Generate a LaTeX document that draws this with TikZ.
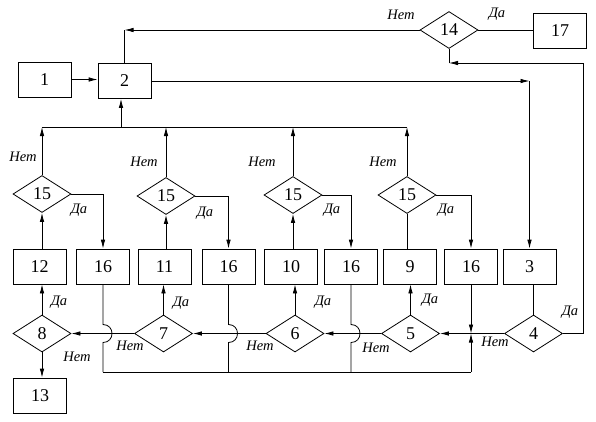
\documentclass[tikz,border=0pt]{standalone}
\usepackage{fontspec}
\setmainfont{Liberation Serif}
\usetikzlibrary{shapes.geometric,arrows.meta,calc}
\newcommand\numfnt{\fontsize{18}{20}\selectfont}
\newcommand\lblfnt{\fontsize{14.5}{16}\selectfont\itshape}
\begin{document}
\begin{tikzpicture}[x=1pt,y=-1pt,line width=0.8pt,
  box/.style={draw,minimum width=53pt,minimum height=35pt,inner sep=0pt,font=\numfnt},
  dia/.style={draw,diamond,aspect=1.57,minimum width=58pt,minimum height=37pt,inner sep=0pt,font=\numfnt},
  lbl/.style={inner sep=0pt,font=\lblfnt},
  arr/.style={-{Latex[length=9pt,width=4.5pt]}}]
\useasboundingbox (0,0) rectangle (596,421);
% top row
\node[box] (n1) at (44.5,79.5) {1};
\node[box] (n2) at (124.5,81) {2};
\node[dia] (d14) at (449,30) {14};
\node[box] (n17) at (560,31) {17};
% 15 diamonds
\node[dia] (d15a) at (42,194) {15};
\node[dia] (d15b) at (166,196) {15};
\node[dia] (d15c) at (293,195) {15};
\node[dia] (d15d) at (407,195) {15};
% box row
\node[box] (n12) at (39.5,266.5) {12};
\node[box] (n16a) at (103,266.5) {16};
\node[box] (n11) at (164.5,266.5) {11};
\node[box] (n16b) at (228.5,266.5) {16};
\node[box] (n10) at (291,266.5) {10};
\node[box] (n16c) at (351,266.5) {16};
\node[box] (n9) at (410,266.5) {9};
\node[box] (n16d) at (471,266.5) {16};
\node[box] (n3) at (529.5,266.5) {3};
% diamond row
\node[dia] (d8) at (42,333.5) {8};
\node[dia] (d7) at (163.5,333.5) {7};
\node[dia] (d6) at (295,333.5) {6};
\node[dia] (d5) at (410.5,333.5) {5};
\node[dia] (d4) at (533.5,333.5) {4};
\node[box] (n13) at (40,395.5) {13};
% helper coordinates
\coordinate (bus) at (0,127);
\coordinate (bot) at (0,372);
\coordinate (rc) at (583,63);
\coordinate (bm) at (121,127);
% top connections
\draw[arr] (n1.east) -- (n1.east -| n2.west);
\draw[arr] (d14.west) -- (d14.west -| n2.north) coordinate (ctop);
\draw (ctop) -- (n2.north);
\draw[arr] (n2.east) -- (n2.east -| n3.north) coordinate (cr);
\draw[arr] (cr) -- (n3.north);
\draw (d14.east) -- (d14.east -| n17.west);
\draw[arr] (d4.east) -| (rc) -- (rc -| d14.south) coordinate (c14);
\draw (c14) -- (d14.south);
% bus to 2
\draw (bus -| d15a.north) -- (bus -| d15d.north);
\draw[arr] (bm) -- (bm |- n2.south);
% 15 diamonds
\foreach \d/\b/\s in {d15a/n12/n16a,d15b/n11/n16b,d15c/n10/n16c}{
  \draw[arr] (\d.north) -- (\d.north |- bus);
  \draw[arr] (\d.east) -| (\s.north);
  \draw[arr] (\d.south |- \b.north) -- (\d.south);
}
\draw[arr] (d15d.north) -- (d15d.north |- bus);
\draw[arr] (d15d.east) -| (n16d.north);
\draw (d15d.south |- n9.north) -- (d15d.south);
% lower row
\draw[arr] (d8.north) -- (d8.north |- n12.south);
\draw[arr] (d8.south) -- (d8.south |- n13.north);
\draw[arr] (d7.north) -- (d7.north |- n11.south);
\draw[arr] (d6.north) -- (d6.north |- n10.south);
\draw[arr] (d5.north) -- (d5.north |- n9.south);
\draw (d4.north |- n3.south) -- (d4.north);
\draw[arr] (d4.west) -- (d5.east);
\draw[arr] (d5.west) -- (d6.east);
\draw[arr] (d6.west) -- (d7.east);
\draw[arr] (d7.west) -- (d8.east);
\coordinate (J) at (n16d.south |- d4.west);
\draw[arr] (n16d.south) -- (J);
\draw[arr] (n16d.south |- bot) -- (J);
\foreach \s in {n16a,n16b,n16c}{
  \draw (\s.south) -- ($(\s.south |- d8.east)+(0,-9)$)
     .. controls ($(\s.south |- d8.east)+(12,-9)$) and ($(\s.south |- d8.east)+(12,9)$) ..
     ($(\s.south |- d8.east)+(0,9)$) -- (\s.south |- bot);
}
\draw (n16a.south |- bot) -- (n16d.south |- bot);
% labels
\node[lbl] at (401,15) {Нет};
\node[lbl] at (497,14) {Да};
\node[lbl] at (23,157) {Нет};
\node[lbl] at (144,162) {Нет};
\node[lbl] at (262,162) {Нет};
\node[lbl] at (383,162) {Нет};
\node[lbl] at (79,210) {Да};
\node[lbl] at (205,213) {Да};
\node[lbl] at (332,210) {Да};
\node[lbl] at (446,210) {Да};
\node[lbl] at (59,302) {Да};
\node[lbl] at (181,303) {Да};
\node[lbl] at (323,302) {Да};
\node[lbl] at (430,300) {Да};
\node[lbl] at (570,312) {Да};
\node[lbl] at (77,357) {Нет};
\node[lbl] at (130,346) {Нет};
\node[lbl] at (260,346) {Нет};
\node[lbl] at (376,348) {Нет};
\node[lbl] at (495,342) {Нет};
\end{tikzpicture}
\end{document}
